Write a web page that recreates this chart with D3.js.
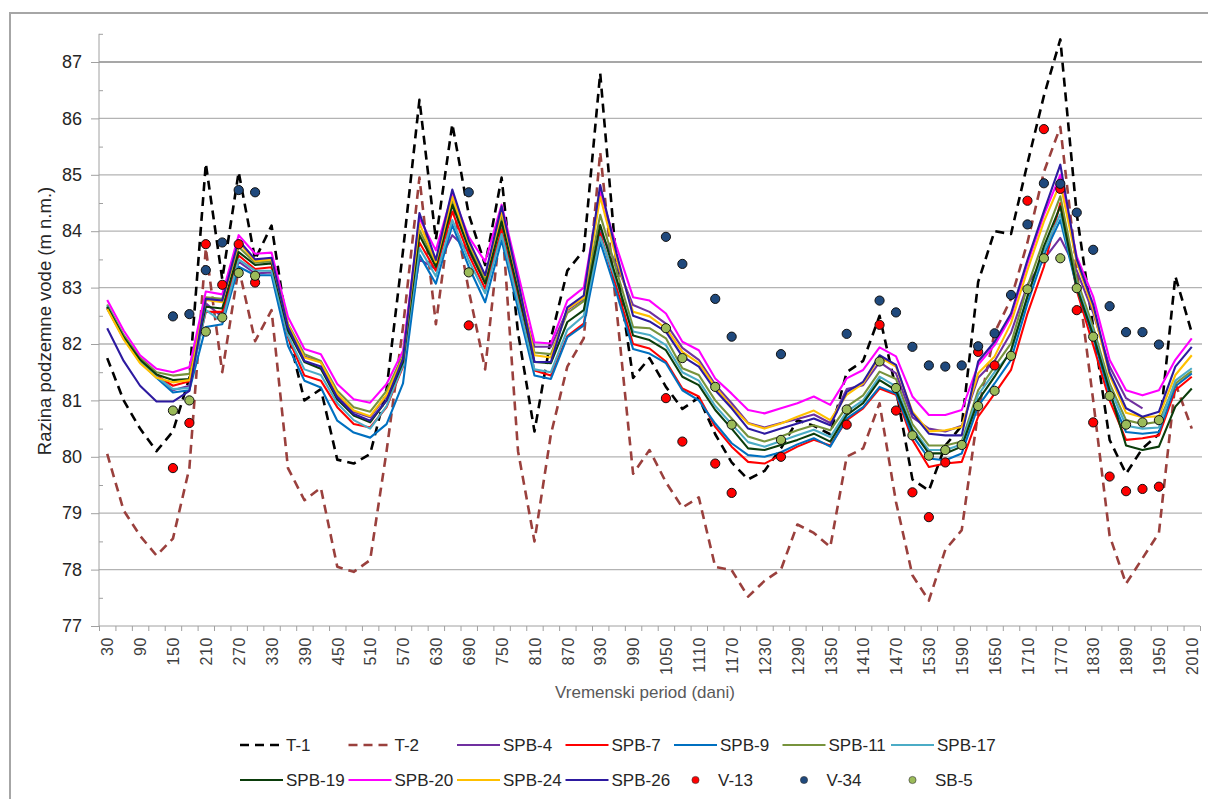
<!DOCTYPE html>
<html><head><meta charset="utf-8">
<script src="https://cdn.jsdelivr.net/npm/d3@7"></script>
<style>
body{margin:0;background:#fff}
svg{display:block}
text{font-family:"Liberation Sans",Arial,sans-serif}
</style>
</head><body>
<svg id="c" width="1208" height="799"></svg>
<script>
// ---------- DATA ----------
const days = [30,60,90,120,150,180,210,240,270,300,330,360,390,420,450,480,510,540,570,600,630,660,690,720,750,780,810,840,870,900,930,960,990,1020,1050,1080,1110,1140,1170,1200,1230,1260,1290,1320,1350,1380,1410,1440,1470,1500,1530,1560,1590,1620,1650,1680,1710,1740,1770,1800,1830,1860,1890,1920,1950,1980,2010];
const dayLabels = [30,90,150,210,270,330,390,450,510,570,630,690,750,810,870,930,990,1050,1110,1170,1230,1290,1350,1410,1470,1530,1590,1650,1710,1770,1830,1890,1950,2010];
const yTicks = [77,78,79,80,81,82,83,84,85,86,87];

const T1 = [81.75,81.0,80.5,80.1,80.45,81.4,85.2,83.15,85.05,83.5,84.1,82.2,81.0,81.2,79.95,79.88,80.05,81.2,83.65,86.33,83.85,85.9,84.3,83.4,84.95,82.2,80.45,82.1,83.3,83.66,86.8,83.4,81.4,81.75,81.24,80.85,81.05,80.4,79.9,79.6,79.75,80.15,80.65,80.55,80.4,81.5,81.7,82.5,81.2,79.6,79.4,80.2,80.55,83.1,84.0,83.95,85.2,86.4,87.4,84.3,82.3,80.3,79.7,80.15,80.4,83.2,82.2];
const T2 = [80.05,79.05,78.6,78.25,78.55,79.8,83.7,81.5,83.35,82.05,82.6,79.8,79.23,79.45,78.05,77.96,78.17,80.1,82.3,84.95,82.35,84.55,82.95,81.55,84.3,80.1,78.5,80.4,81.6,82.1,85.4,82.6,79.7,80.12,79.55,79.1,79.28,78.05,77.99,77.52,77.8,78.0,78.8,78.65,78.4,80.0,80.15,80.95,79.2,77.9,77.45,78.35,78.7,80.8,82.2,82.8,83.8,85.05,85.85,83.3,81.0,78.6,77.75,78.2,78.65,81.3,80.5];
const SPB4 = [82.65,82.12,81.72,81.46,81.18,81.26,82.72,82.48,83.46,83.25,83.27,82.32,81.78,81.68,81.08,80.8,80.7,81.08,81.72,83.5,83.33,83.93,83.65,83.1,83.95,82.9,81.95,81.95,82.6,82.8,84.0,83.4,82.69,82.57,82.36,81.93,81.72,81.28,80.95,80.6,80.52,80.6,80.67,80.75,80.6,81.2,81.27,81.68,81.48,80.7,80.5,80.45,80.55,81.4,81.7,82.2,83.05,83.5,83.88,83.3,82.55,81.6,81.04,80.86,null,null,null];
const SPB7 = [82.64,82.1,81.7,81.44,81.26,81.34,82.57,82.57,83.57,83.33,83.36,82.12,81.44,81.35,80.88,80.58,80.52,80.88,81.6,83.8,83.3,84.35,83.58,82.98,84.02,82.82,81.53,81.44,82.14,82.36,83.96,83.0,82.0,81.92,81.69,81.21,81.07,80.53,80.18,79.91,79.88,80.03,80.18,80.3,80.2,80.65,80.86,81.21,81.1,80.3,79.82,79.88,79.91,80.71,81.12,81.54,82.54,83.37,84.5,82.95,81.98,81.0,80.3,80.33,80.38,81.18,81.42];
const SPB9 = [82.63,82.1,81.68,81.4,81.14,81.18,82.3,82.35,83.37,83.22,83.22,81.97,81.35,81.23,80.64,80.43,80.34,80.58,81.3,83.58,83.07,84.11,83.37,82.74,83.84,82.63,81.44,81.38,82.12,82.33,83.81,82.9,81.91,81.83,81.66,81.18,81.0,80.59,80.24,80.03,80.0,80.08,80.22,80.33,80.18,80.68,80.88,81.24,81.12,80.38,79.97,79.94,80.06,80.9,81.3,81.72,82.72,83.58,84.2,83.0,82.12,81.1,80.44,80.41,80.44,81.25,81.48];
const SPB11 = [82.7,82.16,81.76,81.5,81.44,81.47,82.83,82.8,83.72,83.44,83.47,82.36,81.82,81.7,81.17,80.88,80.8,81.17,81.8,84.02,83.42,84.52,83.74,83.15,84.25,83.02,81.85,81.82,82.55,82.76,84.29,83.3,82.3,82.28,82.1,81.57,81.45,81.0,80.68,80.36,80.27,80.36,80.47,80.56,80.47,80.89,81.09,81.51,81.38,80.58,80.2,80.2,80.27,81.18,81.6,82.01,83.02,83.85,84.62,83.15,82.3,81.3,80.65,80.58,80.62,81.3,81.52];
const SPB17 = [82.68,82.12,81.7,81.42,81.2,81.22,82.6,82.4,83.5,83.3,83.3,82.15,81.55,81.45,80.95,80.65,80.5,80.9,81.62,83.7,83.2,84.2,83.48,82.9,83.95,82.75,81.55,81.5,82.25,82.5,83.9,83.1,82.22,82.16,81.98,81.5,81.35,80.9,80.58,80.26,80.18,80.28,80.38,80.48,80.35,80.8,81.0,81.42,81.25,80.5,80.12,80.12,80.22,81.1,81.5,81.85,82.85,83.65,84.3,83.05,82.22,81.22,80.55,80.5,80.52,81.35,81.57];
const SPB19 = [82.66,82.12,81.72,81.46,81.36,81.38,82.66,82.63,83.63,83.4,83.43,82.24,81.68,81.56,81.02,80.73,80.61,81.0,81.68,83.93,83.37,84.47,83.69,83.07,84.17,82.95,81.68,81.66,82.39,82.6,84.11,83.15,82.15,82.07,81.89,81.42,81.27,80.83,80.5,80.15,80.12,80.21,80.3,80.41,80.27,80.74,80.95,81.36,81.18,80.47,80.06,80.06,80.18,81.0,81.42,81.89,82.84,83.73,84.44,83.0,82.16,81.18,80.2,80.12,80.18,80.89,81.21];
const SPB20 = [82.78,82.24,81.8,81.56,81.5,81.59,82.93,82.88,83.93,83.6,83.62,82.48,81.91,81.82,81.29,81.02,80.96,81.29,81.88,84.23,83.66,84.67,83.9,83.46,84.47,83.25,82.03,82.01,82.77,83.0,84.7,83.72,82.83,82.77,82.54,82.04,81.89,81.39,81.12,80.83,80.77,80.86,80.95,81.07,80.92,81.39,81.54,81.94,81.78,81.07,80.74,80.74,80.83,81.63,81.98,82.49,83.43,84.29,85.0,83.55,82.84,81.72,81.18,81.09,81.18,81.72,82.1];
const SPB24 = [82.62,82.08,81.66,81.4,81.32,81.36,82.78,82.74,83.8,83.47,83.5,82.34,81.76,81.67,81.12,80.82,80.72,81.1,81.76,84.14,83.45,84.61,83.8,83.2,84.35,83.1,81.8,81.76,82.62,82.82,84.61,83.5,82.57,82.49,82.28,81.86,81.66,81.24,80.89,80.59,80.5,80.59,80.71,80.82,80.65,81.1,81.3,81.77,81.6,80.8,80.45,80.47,80.53,81.48,81.78,82.37,83.31,84.17,84.85,83.45,82.62,81.45,80.78,80.7,80.72,81.45,81.8];
const SPB26 = [82.28,81.7,81.26,80.98,80.98,81.17,82.8,82.77,83.84,83.5,83.53,82.3,81.7,81.6,81.05,80.76,80.64,81.0,81.74,84.32,83.49,84.74,83.84,83.22,84.44,83.12,81.68,81.68,82.65,82.86,84.82,83.6,82.5,82.4,82.22,81.78,81.6,81.18,80.86,80.5,80.41,80.5,80.59,80.68,80.56,81.15,81.33,81.8,81.63,80.77,80.41,80.38,80.38,81.69,82.04,82.54,83.49,84.35,85.18,83.5,82.7,81.5,80.86,80.71,80.8,81.6,81.95];

const V13days = [150,180,210,240,270,300,690,1050,1080,1140,1170,1260,1380,1440,1470,1500,1530,1560,1620,1650,1710,1740,1770,1800,1830,1860,1890,1920,1950];
const V13vals = [79.8,80.6,83.77,83.05,83.77,83.09,82.33,81.04,80.27,79.88,79.36,80.0,80.57,82.34,80.82,79.37,78.93,79.9,81.86,81.62,84.54,85.81,84.75,82.6,80.61,79.65,79.39,79.43,79.47];
const V34days = [150,180,210,240,270,300,690,1050,1080,1140,1170,1260,1380,1440,1470,1500,1530,1560,1590,1620,1650,1680,1710,1740,1770,1800,1830,1860,1890,1920,1950];
const V34vals = [82.49,82.53,83.31,83.8,84.73,84.69,84.69,83.9,83.42,82.8,82.13,81.82,82.18,82.77,82.56,81.95,81.62,81.6,81.62,81.96,82.19,82.87,84.12,84.85,84.84,84.33,83.67,82.67,82.21,82.21,81.99];
const SB5days = [150,180,210,240,270,300,690,1050,1080,1140,1170,1260,1380,1440,1470,1500,1530,1560,1590,1620,1650,1680,1710,1740,1770,1800,1830,1860,1890,1920,1950];
const SB5vals = [80.82,81.0,82.22,82.47,83.26,83.21,83.27,82.28,81.75,81.24,80.57,80.3,80.84,81.69,81.22,80.38,80.02,80.12,80.21,80.9,81.17,81.79,82.97,83.52,83.52,82.99,82.13,81.08,80.57,80.61,80.65];

const lineNames = ["T-1","T-2","SPB-4","SPB-7","SPB-9","SPB-11","SPB-17","SPB-19","SPB-20","SPB-24","SPB-26"];
const lineValues = [T1,T2,SPB4,SPB7,SPB9,SPB11,SPB17,SPB19,SPB20,SPB24,SPB26];
const lineColors = ["#000000","#9a403d","#7030a0","#ff0000","#0070c0","#77933c","#4bacc6","#0b3d0b","#ff00ff","#ffc000","#2d1aa0"];
const lineDashed = [true,true,false,false,false,false,false,false,false,false,false];
const markerNames = ["V-13","V-34","SB-5"];
const markerDays = [V13days,V34days,SB5days];
const markerValues = [V13vals,V34vals,SB5vals];
const markerColors = ["#ff0000","#1f497d","#9bbb59"];
const legendRows = [["T-1","T-2","SPB-4","SPB-7","SPB-9","SPB-11","SPB-17"],["SPB-19","SPB-20","SPB-24","SPB-26","V-13","V-34","SB-5"]];

// ---------- CHART ----------
const svg = d3.select("#c");
svg.append("rect").attr("width",1208).attr("height",799).attr("fill","#fff");
svg.append("rect").attr("x",10).attr("y",13).attr("width",1230).attr("height",820)
  .attr("fill","none").attr("stroke","#a6a6a6").attr("stroke-width",2);

const L = 99, R = 1200, T = 33.8, B = 626;
const x = d3.scalePoint().domain(days).range([L,R]).padding(0.5);
const xi = d3.scaleLinear().domain([0,days.length]).range([L,R]);
const y = d3.scaleLinear().domain([77,87.5]).range([B,T]);

// gridlines
svg.append("g").selectAll("line").data(yTicks.filter(v=>v>77)).join("line")
  .attr("x1",L).attr("x2",R+2).attr("y1",d=>y(d)).attr("y2",d=>y(d))
  .attr("stroke",d=>d===87?"#8a8a8a":"#b3b3b3").attr("stroke-width",1.3);

// y axis
const gy = svg.append("g").attr("transform",`translate(${L},0)`)
  .call(d3.axisLeft(y).tickValues(yTicks).tickSize(8).tickPadding(9).tickFormat(d3.format("d")));
gy.select(".domain").attr("stroke","#a0a0a0").attr("d",`M0,${B}V${T}`);
gy.selectAll(".tick line").attr("stroke","#a0a0a0");
gy.selectAll(".tick text").attr("font-size",18).attr("fill","#262626").attr("font-family","Liberation Sans, Arial, sans-serif");
// minor ticks
const gym = svg.append("g").attr("transform",`translate(${L},0)`)
  .call(d3.axisRight(y).tickValues(d3.range(77.5,87.6,1)).tickSize(4).tickFormat(""));
gym.select(".domain").remove();
gym.selectAll(".tick line").attr("stroke","#a0a0a0");

// x axis: boundary ticks
const gx = svg.append("g").attr("transform",`translate(0,${B})`)
  .call(d3.axisBottom(xi).tickValues(d3.range(0,days.length+1)).tickSize(5).tickFormat(""));
gx.select(".domain").attr("stroke","#a0a0a0").attr("d",`M${L},0H${R}`);
gx.selectAll(".tick line").attr("stroke","#a0a0a0");
// x labels
const gxl = svg.append("g").attr("transform",`translate(0,${B})`)
  .call(d3.axisBottom(x).tickValues(dayLabels).tickSize(0).tickPadding(0));
gxl.select(".domain").remove();
gxl.selectAll(".tick text")
  .attr("transform","translate(0,11) rotate(-90)")
  .attr("text-anchor","end").attr("x",0).attr("y",0).attr("dy","0.36em")
  .attr("font-size",16).attr("letter-spacing","0.6px").attr("fill","#404040")
  .attr("font-family","Liberation Sans, Arial, sans-serif");

// axis titles
svg.append("text").attr("transform","translate(45,321) rotate(-90)")
  .attr("text-anchor","middle").attr("dy","0.35em").attr("font-size",18.5).attr("fill","#262626")
  .text("Razina podzemne vode (m n.m.)");
svg.append("text").attr("x",645).attr("y",698).attr("text-anchor","middle")
  .attr("font-size",17).attr("fill","#595959").text("Vremenski period (dani)");

// lines
const plot = svg.append("g");
lineValues.forEach((vals,k)=>{
  const line = d3.line().defined(d=>d[1]!=null).x(d=>x(d[0])).y(d=>y(d[1]));
  plot.append("path").datum(days.map((d,i)=>[d,vals[i]]))
    .attr("d",line).attr("fill","none").attr("stroke",lineColors[k])
    .attr("stroke-width",lineDashed[k]?2.6:2.1)
    .attr("stroke-dasharray",lineDashed[k]?"9,6":null)
    .attr("stroke-linejoin","round");
});
// markers
markerValues.forEach((vals,k)=>{
  plot.append("g").selectAll("circle").data(vals.map((v,i)=>[markerDays[k][i],v])).join("circle")
    .attr("cx",d=>x(d[0])).attr("cy",d=>y(d[1])).attr("r",4.6)
    .attr("fill",markerColors[k]).attr("stroke","#111").attr("stroke-width",1);
});

// legend
const legendY = [745,780];
legendRows.forEach((row,r)=>{
  row.forEach((name,c)=>{
    const x0 = 240 + c*108.5, yy = legendY[r];
    const g = svg.append("g");
    const li = lineNames.indexOf(name);
    if (li>=0){
      g.append("line").attr("x1",x0).attr("x2",x0+43).attr("y1",yy).attr("y2",yy)
        .attr("stroke",lineColors[li]).attr("stroke-width",lineDashed[li]?2.6:2.2)
        .attr("stroke-dasharray",lineDashed[li]?"9,6":null);
      g.append("text").attr("x",x0+46).attr("y",yy).attr("dy","0.35em").attr("font-size",17)
        .attr("fill","#262626").text(name);
    } else {
      const mi = markerNames.indexOf(name);
      g.append("circle").attr("cx",x0+21.5).attr("cy",yy).attr("r",3.6)
        .attr("fill",markerColors[mi]).attr("stroke","#333").attr("stroke-width",0.6);
      g.append("text").attr("x",x0+44).attr("y",yy).attr("dy","0.35em").attr("font-size",17)
        .attr("fill","#262626").text(name);
    }
  });
});
</script>
</body></html>
